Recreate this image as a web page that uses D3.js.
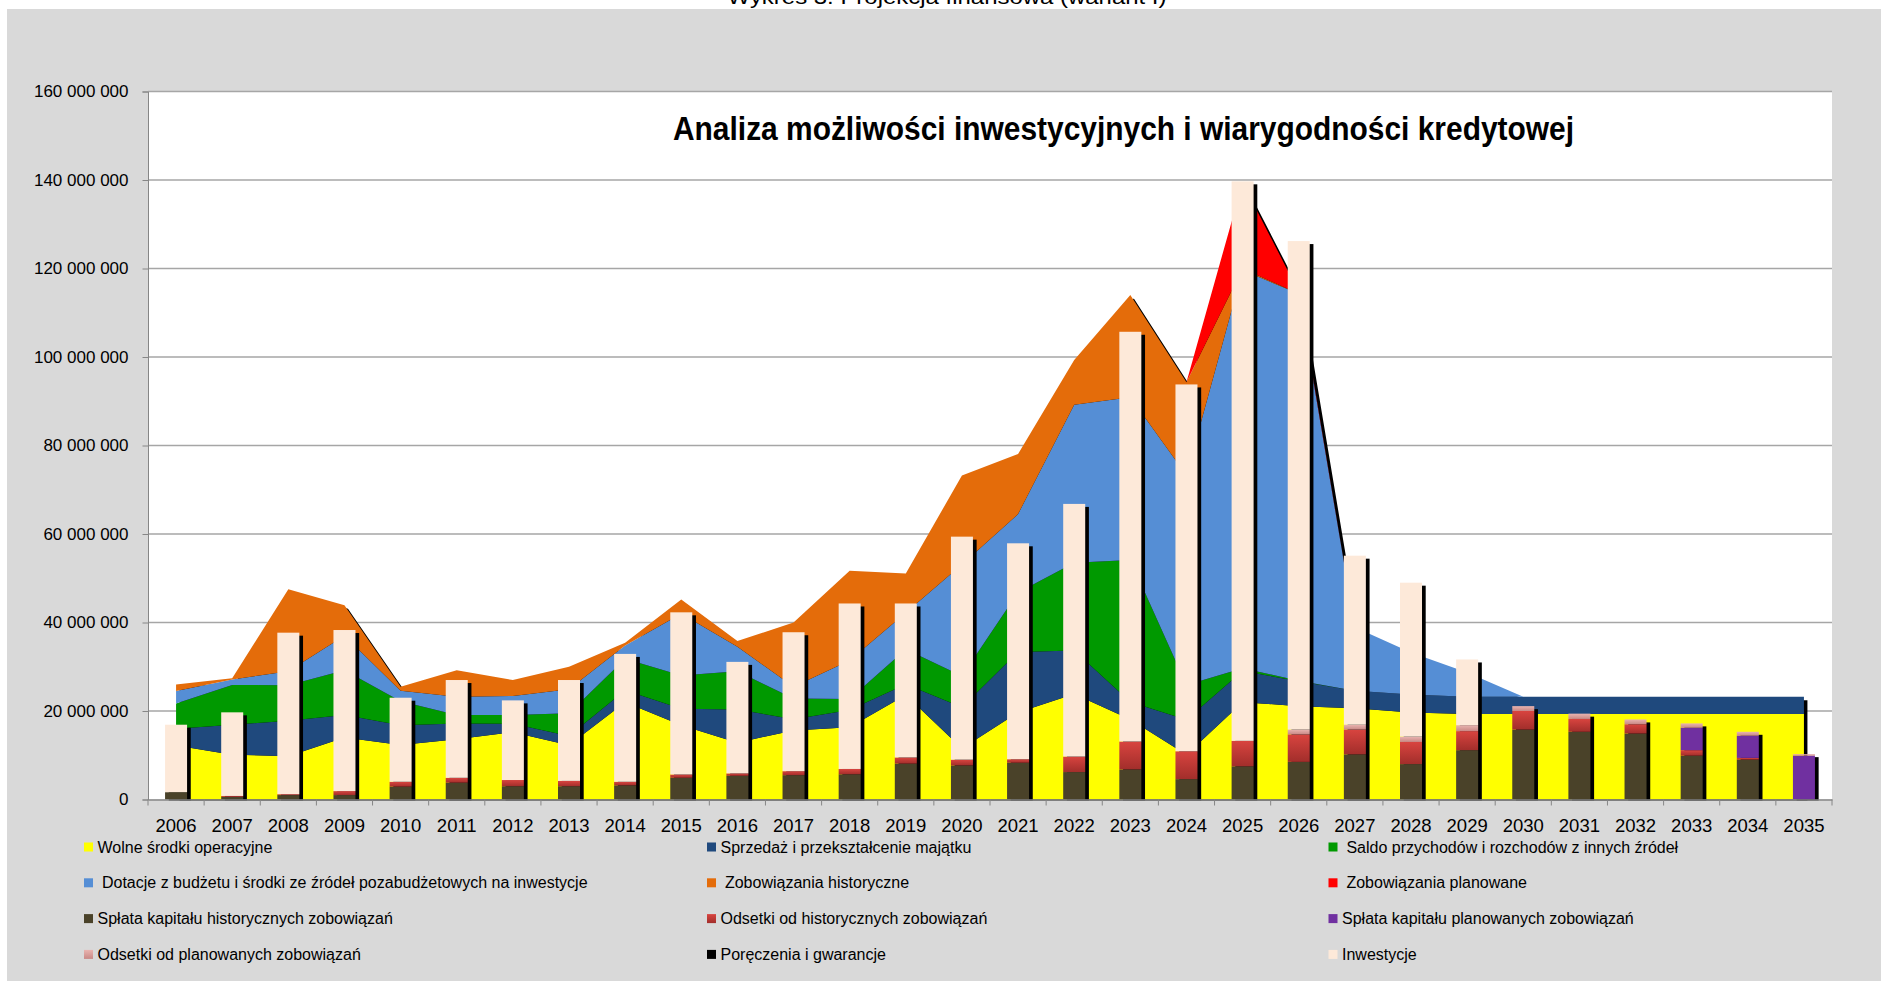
<!DOCTYPE html>
<html>
<head>
<meta charset="utf-8">
<script src="https://cdn.jsdelivr.net/npm/d3@7"></script>
<style>
  html, body { margin: 0; padding: 0; background: #fff; }
  svg { display: block; }
  text { font-family: "Liberation Sans", Arial, sans-serif; fill: #000; }
</style>
</head>
<body>
<div id="chart"></div>
<script>
// categories
const years = ["2006","2007","2008","2009","2010","2011","2012","2013","2014","2015",
               "2016","2017","2018","2019","2020","2021","2022","2023","2024","2025",
               "2026","2027","2028","2029","2030","2031","2032","2033","2034","2035"];

// area series (mln zł)
const wolneSrodki   = [12.2,10.1,9.8,14.0,12.3,13.6,15.2,12.25,22.0,16.8,12.85,15.6,16.3,23.6,11.5,19.65,23.85,18.1,10.1,22.0,21.1,20.6,19.65,19.3,19.3,19.3,19.3,19.3,19.3,19.3];
const sprzedaz      = [3.8,6.8,8.0,5.1,4.5,3.6,1.9,2.1,2.7,3.7,7.5,2.55,3.9,2.45,9.35,13.7,9.85,3.95,7.9,7.05,5.65,3.95,4.1,3.9,3.9,3.9,3.9,3.9,3.9,3.9];
const saldo         = [5.7,9.0,8.0,10.1,5.4,1.9,2.0,5.15,7.1,7.5,8.65,4.65,2.5,7.9,7.05,13.45,19.8,32.05,7.9,0.6,0.1,0,0,0,0,0,0,0,0,0];
const dotacje       = [2.8,1.2,3.2,7.8,2.4,4.1,4.3,5.4,3.0,14.0,5.5,2.7,8.7,8.25,25.2,17.7,35.7,36.8,47.4,89.95,87.45,14.35,9.45,5.5,0,0,0,0,0,0];
const zobHistoryczne= [1.5,0.3,18.5,6.9,0.9,6.0,3.6,5.1,0.6,3.2,1.3,14.5,20.3,8.9,20.1,13.6,10.1,23.1,21.0,0.4,0,0,0,0,0,0,0,0,0,0];
const zobPlanowane  = [0,0,0,0,0,0,0,0,0,0,0,0,0,0,0,0,0,0,0,19.4,0.4,0,0,0,0,0,0,0,0,0];
const poreczenia    = [0,0,0,0,0,0,0,0,0,0,0,0,0,0,0,0,0,0,0,0,0,0,0,0,0,0,0,0,0,0];

// bar series (mln zł)
const splataHist    = [1.66,0.6,1.0,1.0,2.9,3.8,3.0,3.0,3.2,4.9,5.35,5.5,5.7,8.1,7.7,8.3,6.2,6.8,4.6,7.5,8.5,10.2,8.0,11.15,15.8,15.3,14.9,9.9,9.0,0];
const odsetkiHist   = [0,0.2,0.2,0.9,1.1,1.1,1.4,1.2,0.8,0.75,0.55,0.9,1.2,1.4,1.3,0.8,3.5,6.3,6.3,5.75,6.2,5.6,5.0,4.3,4.2,2.9,2.1,1.25,0.4,0];
const splataPlan    = [0,0,0,0,0,0,0,0,0,0,0,0,0,0,0,0,0,0,0,0,0,0,0,0,0,0,0,5.05,5.0,9.9];
const odsetkiPlan   = [0,0,0,0,0,0,0,0,0,0,0,0,0,0,0,0,0,0,0,0,1.1,1.1,1.2,1.35,1.1,1.2,1.1,1.0,0.9,0.35];
const inwestycje    = [15.24,18.9,36.5,36.4,19.0,22.1,18.0,22.8,28.9,36.65,25.2,31.4,37.4,34.8,50.4,48.8,57.1,92.6,82.9,126.45,110.4,38.2,34.8,14.85,0,0,0,0,0,0];

const yTicks = [0, 20e6, 40e6, 60e6, 80e6, 100e6, 120e6, 140e6, 160e6];

const areaKeys = ["wolne","sprzedaz","saldo","dotacje","zobHist","zobPlan","poreczenia"];
const barKeys  = ["splataHist","odsetkiHist","splataPlan","odsetkiPlan","inwestycje"];

const colors = {
  wolne: "#ffff00",
  sprzedaz: "#1f497d",
  saldo: "#009900",
  dotacje: "#558ed5",
  zobHist: "#e46c0a",
  zobPlan: "#ff0000",
  poreczenia: "#000000",
  splataHist: "#4a4229",
  odsetkiHist: "url(#gradRed)",
  splataPlan: "#7030a0",
  odsetkiPlan: "url(#gradPink)",
  inwestycje: "#fde9d9"
};

const legendItems = [
  ["wolne", "Wolne środki operacyjne"],
  ["sprzedaz", "Sprzedaż i przekształcenie majątku"],
  ["saldo", " Saldo przychodów i rozchodów z innych źródeł"],
  ["dotacje", " Dotacje z budżetu i środki ze źródeł pozabudżetowych na inwestycje"],
  ["zobHist", " Zobowiązania historyczne"],
  ["zobPlan", " Zobowiązania planowane"],
  ["splataHist", "Spłata kapitału historycznych zobowiązań"],
  ["odsetkiHist", "Odsetki od historycznych zobowiązań"],
  ["splataPlan", "Spłata kapitału planowanych zobowiązań"],
  ["odsetkiPlan", "Odsetki od planowanych zobowiązań"],
  ["poreczenia", "Poręczenia i gwarancje"],
  ["inwestycje", "Inwestycje"]
];

const M = 1e6;
const rows = years.map((yr, i) => ({
  year: yr,
  wolne: wolneSrodki[i] * M,
  sprzedaz: sprzedaz[i] * M,
  saldo: saldo[i] * M,
  dotacje: dotacje[i] * M,
  zobHist: zobHistoryczne[i] * M,
  zobPlan: zobPlanowane[i] * M,
  poreczenia: poreczenia[i] * M,
  splataHist: splataHist[i] * M,
  odsetkiHist: odsetkiHist[i] * M,
  splataPlan: splataPlan[i] * M,
  odsetkiPlan: odsetkiPlan[i] * M,
  inwestycje: inwestycje[i] * M
}));

const W = 1881, H = 981;
const plot = { left: 148, right: 1832, top: 91.5, bottom: 799.5 };

const svg = d3.select("#chart").append("svg")
  .attr("width", W)
  .attr("height", H);

const defs = svg.append("defs");
const gRed = defs.append("linearGradient").attr("id", "gradRed")
  .attr("x1", 0).attr("y1", 0).attr("x2", 0).attr("y2", 1);
gRed.append("stop").attr("offset", "0%").attr("stop-color", "#d8443f");
gRed.append("stop").attr("offset", "100%").attr("stop-color", "#a22e2b");
const gPink = defs.append("linearGradient").attr("id", "gradPink")
  .attr("x1", 0).attr("y1", 0).attr("x2", 0).attr("y2", 1);
gPink.append("stop").attr("offset", "0%").attr("stop-color", "#e9b4b0");
gPink.append("stop").attr("offset", "100%").attr("stop-color", "#c98885");

defs.append("clipPath").attr("id", "plotClip")
  .append("rect")
  .attr("x", plot.left).attr("y", plot.top - 2)
  .attr("width", plot.right - plot.left).attr("height", plot.bottom - plot.top + 3);

// chart background
svg.append("rect")
  .attr("x", 7).attr("y", 9)
  .attr("width", W - 7).attr("height", H - 9)
  .attr("fill", "#d9d9d9");

// caption cut at the top
svg.append("text")
  .attr("x", 947).attr("y", 4)
  .attr("text-anchor", "middle")
  .attr("font-size", 20)
  .attr("textLength", 439)
  .attr("lengthAdjust", "spacingAndGlyphs")
  .text("Wykres 3. Projekcja finansowa (wariant I)");

// plot area
svg.append("rect")
  .attr("x", plot.left).attr("y", plot.top)
  .attr("width", plot.right - plot.left).attr("height", plot.bottom - plot.top)
  .attr("fill", "#fff");

const x = d3.scaleBand().domain(years).range([plot.left, plot.right]);
const xc = d => x(d) + x.bandwidth() / 2;
const y = d3.scaleLinear().domain([0, 160e6]).range([plot.bottom, plot.top]);
const barW = 22;

// gridlines
svg.append("g").selectAll("line")
  .data(yTicks.filter(d => d > 0))
  .enter().append("line")
  .attr("x1", plot.left).attr("x2", plot.right)
  .attr("y1", d => y(d)).attr("y2", d => y(d))
  .attr("stroke", "#a6a6a6")
  .attr("stroke-width", 1.3);

const chartG = svg.append("g").attr("clip-path", "url(#plotClip)");

// areas
const areaStack = d3.stack().keys(areaKeys)(rows);
const area = d3.area()
  .x(d => xc(d.data.year))
  .y0(d => y(d[0]))
  .y1(d => y(d[1]));

// shadow of the area group
const topLayer = areaStack[areaStack.length - 1];
chartG.append("path")
  .datum(topLayer)
  .attr("d", d3.area().x(d => xc(d.data.year)).y0(y(0)).y1(d => y(d[1])))
  .attr("transform", "translate(3.5,3.5)")
  .attr("fill", "#000");

chartG.selectAll(".layer")
  .data(areaStack)
  .enter().append("path")
  .attr("class", "layer")
  .attr("d", area)
  .attr("fill", d => colors[d.key]);

// bars
const barStack = d3.stack().keys(barKeys)(rows);
const barTop = barStack[barStack.length - 1];

chartG.selectAll(".shadow")
  .data(barTop)
  .enter().append("rect")
  .attr("class", "shadow")
  .attr("x", d => xc(d.data.year) - barW / 2 + 3.7)
  .attr("y", d => y(d[1]) + 3)
  .attr("width", barW)
  .attr("height", d => y(0) - y(d[1]))
  .attr("fill", "#000");

const barLayers = chartG.selectAll(".bars")
  .data(barStack)
  .enter().append("g")
  .attr("class", "bars")
  .attr("fill", d => colors[d.key]);

barLayers.selectAll("rect")
  .data(d => d.filter(v => v[1] - v[0] > 0))
  .enter().append("rect")
  .attr("x", d => xc(d.data.year) - barW / 2)
  .attr("y", d => y(d[1]))
  .attr("width", barW)
  .attr("height", d => y(d[0]) - y(d[1]));

// y axis
const fmt = d => d3.format(",")(d).replace(/,/g, " ");
const yAxis = svg.append("g")
  .attr("transform", "translate(" + plot.left + ",0)")
  .call(d3.axisLeft(y).tickValues(yTicks).tickFormat(fmt).tickSize(5.5).tickPadding(14));
yAxis.select(".domain").attr("stroke", "#868686");
yAxis.selectAll(".tick line").attr("stroke", "#868686");
yAxis.selectAll("text").attr("font-size", 17).attr("font-family", "Liberation Sans, Arial, sans-serif").attr("fill", "#000");

// x axis
const xAxis = svg.append("g")
  .attr("transform", "translate(0," + plot.bottom + ")")
  .call(d3.axisBottom(x).tickSize(0).tickPadding(19));
xAxis.select(".domain").attr("stroke", "#868686").attr("stroke-width", 1.3);
xAxis.selectAll("text").attr("font-size", 18.5).attr("font-family", "Liberation Sans, Arial, sans-serif").attr("fill", "#000");
xAxis.selectAll(".boundary")
  .data(years.concat(["end"]))
  .enter().append("line")
  .attr("class", "boundary")
  .attr("x1", d => d === "end" ? plot.right : x(d))
  .attr("x2", d => d === "end" ? plot.right : x(d))
  .attr("y1", 0).attr("y2", 6)
  .attr("stroke", "#868686");

// chart title
svg.append("text")
  .attr("x", 673).attr("y", 140)
  .attr("font-size", 34)
  .attr("font-weight", "bold")
  .attr("textLength", 901)
  .attr("lengthAdjust", "spacingAndGlyphs")
  .text("Analiza możliwości inwestycyjnych i wiarygodności kredytowej");

// legend
const colX = [84, 707, 1328.5];
const legend = svg.append("g").selectAll(".legend")
  .data(legendItems)
  .enter().append("g")
  .attr("class", "legend")
  .attr("transform", (d, i) => "translate(" + colX[i % 3] + "," + (847 + Math.floor(i / 3) * 35.8) + ")");

legend.append("rect")
  .attr("x", 0).attr("y", -4.5)
  .attr("width", 9).attr("height", 9)
  .attr("fill", d => colors[d[0]]);

legend.append("text")
  .attr("x", 13.5).attr("y", 5.5)
  .attr("font-size", 16)
  .style("white-space", "pre")
  .text(d => d[1]);
</script>
</body>
</html>
